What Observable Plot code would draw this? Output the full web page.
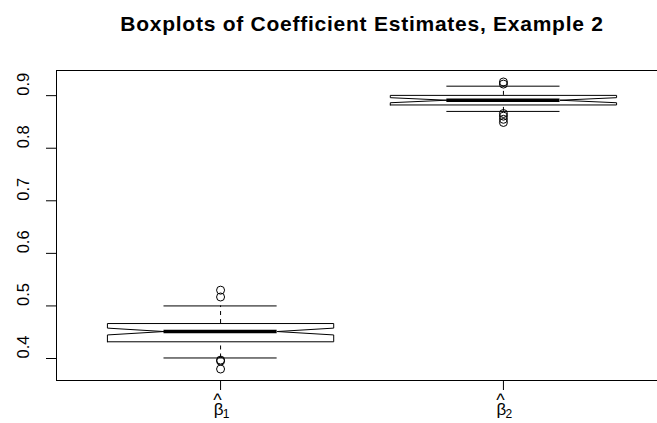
<!DOCTYPE html>
<html>
<head>
<meta charset="utf-8">
<script src="https://cdn.jsdelivr.net/npm/d3@7"></script>
<script src="https://cdn.jsdelivr.net/npm/@observablehq/plot@0.6"></script>
<style>
  html, body { margin: 0; padding: 0; background: white; overflow: hidden; }
</style>
</head>
<body>
<div id="chart"></div>
<script>
// ---- data ----
const title = "Boxplots of Coefficient Estimates, Example 2";
const positions = [1, 2];
const tickSymbol = ["β", "β"];
const tickSubscripts = ["1", "2"];
const lowerWhisker = [0.401, 0.870];
const q1 = [0.4318, 0.8823];
const median = [0.4513, 0.8913];
const q3 = [0.4665, 0.9005];
const upperWhisker = [0.500, 0.918];
const notchLow = [0.4448, 0.8865];
const notchHigh = [0.4578, 0.8961];
const outlierGroup = [1, 1, 1, 1, 1, 2, 2, 2, 2, 2, 2];
const outlierValue = [0.530, 0.517, 0.397, 0.395, 0.380, 0.926, 0.922, 0.866, 0.861, 0.855, 0.849];
const yTicks = [0.4, 0.5, 0.6, 0.7, 0.8, 0.9];

// ---- derived structures ----
const boxes = positions.map((p, i) => ({
  p, lo: lowerWhisker[i], q1: q1[i], med: median[i], q3: q3[i], hi: upperWhisker[i],
  cl: notchLow[i], ch: notchHigh[i]
}));
const halfW = 0.4, notchFrac = 0.5, stapleFrac = 0.5;
const poly = boxes.flatMap(b => [
  [b.p - halfW, b.q1], [b.p + halfW, b.q1], [b.p + halfW, b.cl], [b.p + halfW * notchFrac, b.med],
  [b.p + halfW, b.ch], [b.p + halfW, b.q3], [b.p - halfW, b.q3], [b.p - halfW, b.ch],
  [b.p - halfW * notchFrac, b.med], [b.p - halfW, b.cl], [b.p - halfW, b.q1]
].map(([x, y]) => ({x, y, g: b.p})));
const outliers = outlierGroup.map((g, i) => ({x: g, y: outlierValue[i]}));

// R-style 4% extended ranges
const allY = [...lowerWhisker, ...upperWhisker, ...outlierValue];
const [ymin, ymax] = d3.extent(allY);
const ext = (ymax - ymin) * 0.04;
const xDomain = [0.5 - 0.08, positions.length + 0.5 + 0.08];

const chart = Plot.plot({
  width: 657,
  height: 423,
  marginTop: 70,
  marginLeft: 56,
  marginBottom: 43,
  marginRight: -10,
  style: {fontFamily: "'Liberation Sans', Arial, sans-serif", color: "black", background: "white"},
  x: {domain: xDomain},
  y: {domain: [ymin - ext, ymax + ext]},
  marks: [
    Plot.frame({stroke: "black"}),
    Plot.axisY({ticks: yTicks, tickSize: 10, tickFormat: () => "", label: null}),
    Plot.text(yTicks, {y: d => d, text: d => d.toFixed(1), frameAnchor: "left", rotate: -90, dx: -33, fontSize: 16.5}),
    Plot.axisX({ticks: positions, tickSize: 10, tickFormat: () => "", label: null}),
    Plot.text(positions, {x: d => d, text: () => "^", frameAnchor: "bottom", lineAnchor: "top", dy: 12.5, dx: -3, fontSize: 18}),
    Plot.text(positions, {x: d => d, text: (d, i) => tickSymbol[i], frameAnchor: "bottom", lineAnchor: "top", dy: 22, dx: -2, fontSize: 17}),
    Plot.text(positions, {x: d => d, text: (d, i) => tickSubscripts[i], frameAnchor: "bottom", lineAnchor: "top", dy: 29, dx: 5.5, fontSize: 12}),
    Plot.text([title], {frameAnchor: "top", lineAnchor: "top", dy: -54, fontWeight: "bold", fontSize: 21}),
    // whiskers
    Plot.ruleX(boxes, {x: "p", y1: "q3", y2: "hi", strokeDasharray: "4,4", stroke: "black"}),
    Plot.ruleX(boxes, {x: "p", y1: "lo", y2: "q1", strokeDasharray: "4,4", stroke: "black"}),
    Plot.ruleY(boxes, {y: "hi", x1: d => d.p - halfW * stapleFrac, x2: d => d.p + halfW * stapleFrac, stroke: "black"}),
    Plot.ruleY(boxes, {y: "lo", x1: d => d.p - halfW * stapleFrac, x2: d => d.p + halfW * stapleFrac, stroke: "black"}),
    // notched boxes
    Plot.line(poly, {x: "x", y: "y", z: "g", stroke: "black", strokeWidth: 1, curve: "linear"}),
    // medians
    Plot.ruleY(boxes, {y: "med", x1: d => d.p - halfW * notchFrac, x2: d => d.p + halfW * notchFrac, stroke: "black", strokeWidth: 3.5}),
    // outliers
    Plot.dot(outliers, {x: "x", y: "y", r: 4, stroke: "black", fill: "none", strokeWidth: 1})
  ]
});
d3.select(chart).selectAll("text").filter(function() { return this.textContent === title; })
  .attr("letter-spacing", "0.75px");
document.getElementById("chart").append(chart);
</script>
</body>
</html>
